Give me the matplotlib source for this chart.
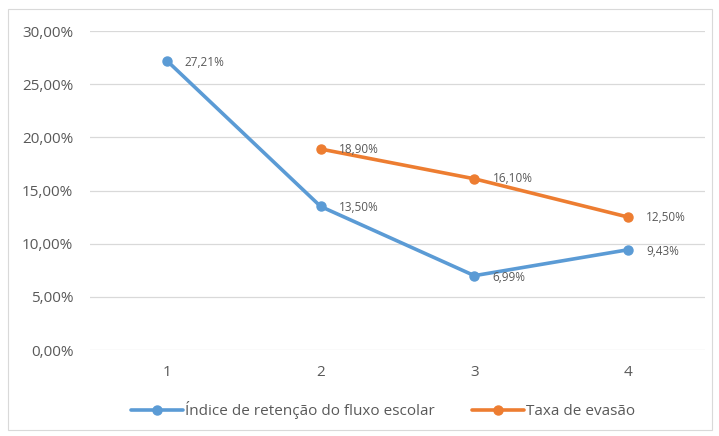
import matplotlib.pyplot as plt
from matplotlib.patches import Rectangle
from matplotlib.ticker import FuncFormatter

plt.rcParams['font.family'] = ['Open Sans', 'DejaVu Sans']

anos = [1, 2, 3, 4]
retencao = [27.21, 13.50, 6.99, 9.43]
evasao_x = [2, 3, 4]
evasao = [18.90, 16.10, 12.50]

azul = '#5B9BD5'
laranja = '#ED7D31'
cinza = '#595959'

fig = plt.figure(figsize=(7.19, 4.36), dpi=100)
ax = fig.add_axes([90/719, 1 - 350/436, 615/719, 319/436])

ax.plot(anos, retencao, color=azul, lw=2.6, marker='o', ms=6.5,
        label='Índice de retenção do fluxo escolar', solid_capstyle='round')
ax.plot(evasao_x, evasao, color=laranja, lw=2.6, marker='o', ms=6.5,
        label='Taxa de evasão', solid_capstyle='round')

def fmt(v):
    return f'{v:.2f}%'.replace('.', ',')

for x, v in zip(anos, retencao):
    ax.annotate(fmt(v), (x, v), xytext=(13, -1), textcoords='offset points',
                va='center', ha='left', fontsize=8.5, color=cinza)
for x, v in zip(evasao_x, evasao):
    ax.annotate(fmt(v), (x, v), xytext=(13, 0), textcoords='offset points',
                va='center', ha='left', fontsize=8.5, color=cinza)

ax.set_xlim(0.5, 4.5)
ax.set_ylim(0, 30)
ax.set_yticks(range(0, 31, 5))
ax.yaxis.set_major_formatter(FuncFormatter(lambda v, p: fmt(v)))
ax.set_xticks(anos)
ax.grid(axis='y', color='#D9D9D9', lw=0.9)
ax.set_axisbelow(True)
for s in ax.spines.values():
    s.set_visible(False)
ax.tick_params(length=0, labelsize=11, colors=cinza)
ax.tick_params(axis='x', pad=11)
ax.tick_params(axis='y', pad=12)

fig.legend(loc='center', bbox_to_anchor=(383/719, 1 - 410/436), ncol=2,
           frameon=False, fontsize=11, labelcolor=cinza, handlelength=3.4,
           columnspacing=2.4, handletextpad=0.15)

fig.patches.append(Rectangle((8/719, 6/436), 704/719, 421/436,
                             transform=fig.transFigure, fill=False,
                             edgecolor='#D9D9D9', lw=0.8))

fig.savefig('out.png', dpi=100)
